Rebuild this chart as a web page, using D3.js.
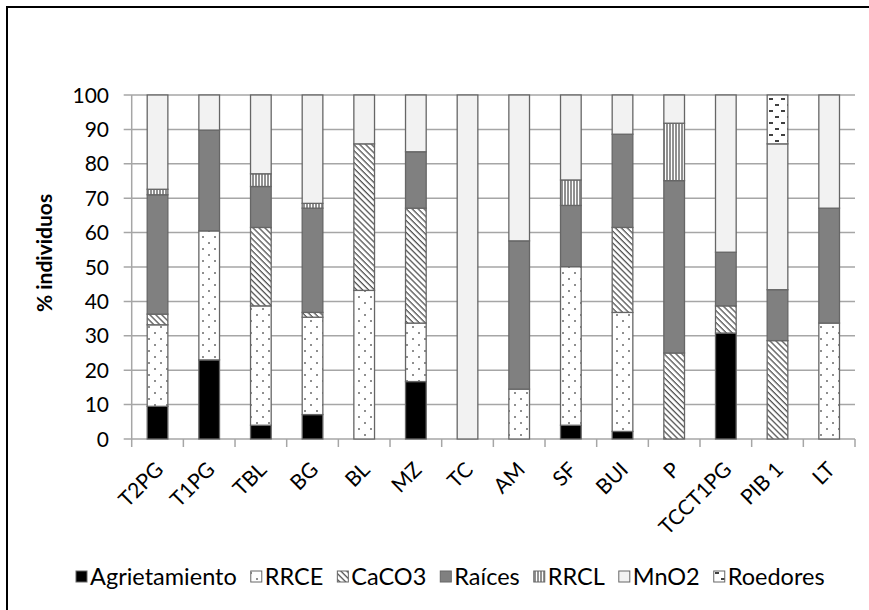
<!DOCTYPE html>
<html>
<head>
<meta charset="utf-8">
<script src="https://cdn.jsdelivr.net/npm/d3@7"></script>
<style>
html,body{margin:0;padding:0;background:#fff;}
svg{display:block;}
text{font-family:Lato,"Open Sans",sans-serif;fill:#000;}
</style>
</head>
<body>
<svg id="chart" width="869" height="610"></svg>
<script>
const categories = ["T2PG","T1PG","TBL","BG","BL","MZ","TC","AM","SF","BUI","P","TCCT1PG","PIB 1","LT"];
const seriesNames = ["Agrietamiento","RRCE","CaCO3","Raíces","RRCL","MnO2","Roedores"];
const agrietamiento = [9.5,23,4,7.1,0,16.7,0,0,4,2.2,0,30.8,0,0];
const rrce          = [23.7,37.5,34.7,28.3,43.2,17.0,0,14.5,46.1,34.6,0,0,0,33.7];
const caco3         = [3.1,0,22.8,1.4,42.6,33.4,0,0,0,24.7,25,7.9,28.6,0];
const raices        = [34.7,29.3,11.9,30.3,0,16.4,0,43.1,17.8,27.1,50.1,15.6,14.8,33.4];
const rrcl          = [1.6,0,3.7,1.4,0,0,0,0,7.4,0,16.7,0,0,0];
const mno2          = [27.4,10.2,22.9,31.5,14.2,16.5,100,42.4,24.7,11.4,8.2,45.7,42.4,32.9];
const roedores      = [0,0,0,0,0,0,0,0,0,0,0,0,14.2,0];
const yTicks = [0,10,20,30,40,50,60,70,80,90,100];
const yLabel = "% individuos";

(function () {
const seriesValues = [agrietamiento, rrce, caco3, raices, rrcl, mno2, roedores];
const rows = categories.map((c, i) => {
  const r = {cat: c};
  seriesNames.forEach((s, k) => r[s] = seriesValues[k][i]);
  return r;
});

const svg = d3.select("#chart");
const pLeft = 131.7, pRight = 855, pTop = 95, pBottom = 439;

// frame
svg.append("rect").attr("x", 7).attr("y", 7).attr("width", 900).attr("height", 700)
  .attr("fill", "#fff").attr("stroke", "#000").attr("stroke-width", 2);

// patterns
const defs = svg.append("defs");
const pRrce = defs.append("pattern").attr("id", "p-rrce").attr("patternUnits", "userSpaceOnUse")
  .attr("width", 12).attr("height", 12);
pRrce.append("rect").attr("width", 12).attr("height", 12).attr("fill", "#fff");
pRrce.append("circle").attr("cx", 5).attr("cy", 3).attr("r", 0.8).attr("fill", "#000");
pRrce.append("circle").attr("cx", 11).attr("cy", 9).attr("r", 0.8).attr("fill", "#000");

const pCa = defs.append("pattern").attr("id", "p-caco3").attr("patternUnits", "userSpaceOnUse")
  .attr("width", 4.2).attr("height", 4.2).attr("patternTransform", "rotate(-45)");
pCa.append("rect").attr("width", 4.2).attr("height", 4.2).attr("fill", "#fff");
pCa.append("line").attr("x1", 1).attr("y1", 0).attr("x2", 1).attr("y2", 4.2)
  .attr("stroke", "#333").attr("stroke-width", 1.1);

const pRrcl = defs.append("pattern").attr("id", "p-rrcl").attr("patternUnits", "userSpaceOnUse")
  .attr("width", 3).attr("height", 3);
pRrcl.append("rect").attr("width", 3).attr("height", 3).attr("fill", "#fff");
pRrcl.append("line").attr("x1", 1).attr("y1", 0).attr("x2", 1).attr("y2", 3)
  .attr("stroke", "#222").attr("stroke-width", 1);

const pRoe = defs.append("pattern").attr("id", "p-roe").attr("patternUnits", "userSpaceOnUse")
  .attr("width", 12).attr("height", 12);
pRoe.append("rect").attr("width", 12).attr("height", 12).attr("fill", "#fff");
pRoe.append("line").attr("x1", 1).attr("y1", 3).attr("x2", 5).attr("y2", 3)
  .attr("stroke", "#000").attr("stroke-width", 1.5);
pRoe.append("line").attr("x1", 7).attr("y1", 9).attr("x2", 11).attr("y2", 9)
  .attr("stroke", "#000").attr("stroke-width", 1.5);

const fills = {
  "Agrietamiento": "#000000",
  "RRCE": "url(#p-rrce)",
  "CaCO3": "url(#p-caco3)",
  "Raíces": "#808080",
  "RRCL": "url(#p-rrcl)",
  "MnO2": "#f2f2f2",
  "Roedores": "url(#p-roe)"
};

const x = d3.scaleBand().domain(categories).range([pLeft, pRight]).paddingInner(0.6).paddingOuter(0.3);
const y = d3.scaleLinear().domain([0, 100]).range([pBottom, pTop]);

const gridColor = "#a6a6a6";
svg.append("g").selectAll("line").data(yTicks).join("line")
  .attr("x1", pLeft - 8).attr("x2", pRight)
  .attr("y1", d => y(d)).attr("y2", d => y(d))
  .attr("stroke", gridColor).attr("stroke-width", 1.5);

svg.append("line").attr("x1", pLeft).attr("x2", pLeft).attr("y1", pTop).attr("y2", pBottom)
  .attr("stroke", gridColor).attr("stroke-width", 1.5);

svg.append("g").selectAll("text").data(yTicks).join("text")
  .attr("x", 109).attr("y", d => y(d)).attr("dy", "0.36em")
  .attr("text-anchor", "end").attr("font-size", 21).text(d => d);

svg.append("text").attr("transform", `translate(52,${(pTop + pBottom) / 2 - 14}) rotate(-90)`)
  .attr("text-anchor", "middle").attr("font-size", 21).attr("font-weight", "bold").text(yLabel);

const step = x.step();
const bounds = d3.range(categories.length + 1).map(i => pLeft + i * step);
svg.append("g").selectAll("line").data(bounds).join("line")
  .attr("x1", d => d).attr("x2", d => d).attr("y1", pBottom).attr("y2", pBottom + 8)
  .attr("stroke", gridColor).attr("stroke-width", 1.5);

const stack = d3.stack().keys(seriesNames)(rows);
const barG = svg.append("g");
stack.forEach(layer => {
  barG.selectAll(null).data(layer.filter(d => d[1] - d[0] > 0)).join("rect")
    .attr("x", d => x(d.data.cat))
    .attr("width", x.bandwidth())
    .attr("y", d => y(d[1]))
    .attr("height", d => y(d[0]) - y(d[1]))
    .attr("fill", fills[layer.key])
    .attr("stroke", "#666").attr("stroke-width", 1.3);
});

svg.append("g").selectAll("text").data(categories).join("text")
  .attr("transform", d => `translate(${x(d) + x.bandwidth() / 2 + 7},${471}) rotate(-45)`)
  .attr("text-anchor", "end").attr("font-size", 21).text(d => d);

const legY = 577;
let lx = 76;
const leg = svg.append("g");
seriesNames.forEach(s => {
  leg.append("rect").attr("x", lx).attr("y", legY - 6).attr("width", 11).attr("height", 11)
    .attr("fill", fills[s]).attr("stroke", "#666").attr("stroke-width", 1);
  const t = leg.append("text").attr("x", lx + 14).attr("y", legY).attr("dy", "0.36em")
    .attr("font-size", 23.5).text(s);
  lx += 14 + t.node().getComputedTextLength() + 14;
});
})();
</script>
</body>
</html>
